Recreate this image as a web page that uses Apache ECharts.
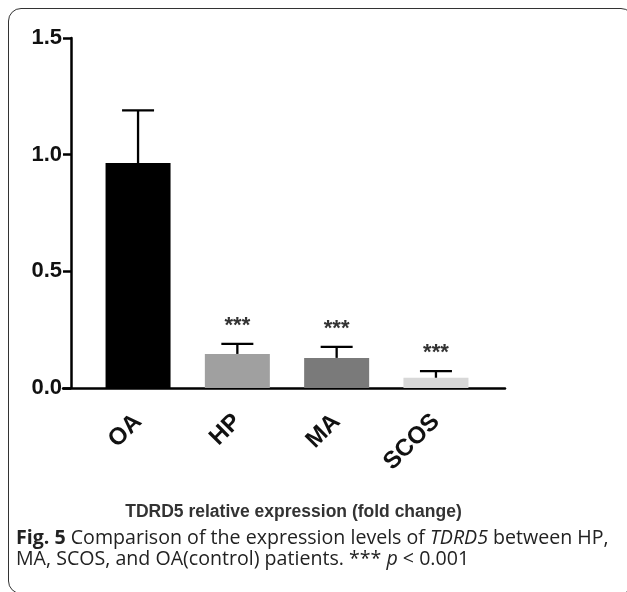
<!DOCTYPE html>
<html>

<head>
    <meta charset="utf-8">
    <script src="https://cdn.jsdelivr.net/npm/echarts@6/dist/echarts.min.js"></script>
    <style>
        body { margin: 0; background: #fff; }
        #frame {
            position: absolute; left: 8px; top: 8px; width: 626px; height: 586px;
            border: 1.5px solid #333; border-radius: 13px; box-sizing: border-box;
        }
        #chart { position: absolute; left: 0; top: 0; width: 627px; height: 592px; }
        #caption {
            position: absolute; left: 16px; top: 526px; white-space: nowrap;
            font-family: "Open Sans", sans-serif; font-size: 19.6px; line-height: 21px; color: #222;
        }
    </style>
</head>

<body>
    <div id="frame"></div>
    <div id="chart"></div>
    <div id="caption"><b>Fig. 5</b> Comparison of the expression levels of <i>TDRD5</i> between HP,<br>MA, SCOS, and OA(control) patients. *** <i>p</i> &lt; 0.001</div>
</body>

<script type="text/javascript">
    var groups = ['OA', 'HP', 'MA', 'SCOS'];
    var means = [0.964, 0.146, 0.129, 0.044];
    var upper = [1.19, 0.189, 0.176, 0.072];
    var sig = ['', '***', '***', '***'];
    var colors = ['#000000', '#a0a0a0', '#7a7a7a', '#d8d8d8'];
    var yTicks = [0, 0.5, 1.0, 1.5];

    var errData = groups.map(function (g, i) { return [i, means[i], upper[i]]; });

    var option = {
        animation: false,
        grid: [
            { left: 88.4, right: 141.4, top: 38, height: 350 },
            { left: 63, right: 122, top: 38, height: 350 }
        ],
        xAxis: [
            {
                type: 'category',
                gridIndex: 0,
                data: groups,
                axisLine: { show: false },
                axisTick: { alignWithLabel: true, length: 9, lineStyle: { color: '#000', width: 2.5 } },
                axisLabel: {
                    rotate: 45, margin: 30, color: '#111',
                    fontFamily: 'Liberation Sans', fontWeight: 'bold', fontSize: 24
                },
                name: 'TDRD5 relative expression (fold change)',
                nameLocation: 'middle',
                nameGap: 115,
                nameTextStyle: {
                    fontFamily: 'Liberation Sans', fontWeight: 'bold', fontSize: 17.5, color: '#333',
                    padding: [0, 0, 0, 13]
                }
            },
            {
                type: 'value',
                gridIndex: 1,
                min: 0, max: 1,
                axisLine: { show: true, lineStyle: { color: '#000', width: 2.5 } },
                axisTick: { show: false },
                axisLabel: { show: false },
                splitLine: { show: false }
            }
        ],
        yAxis: [
            {
                type: 'value',
                gridIndex: 0,
                min: yTicks[0], max: yTicks[yTicks.length - 1], interval: 0.5,
                offset: 17.4,
                axisLine: { show: true, lineStyle: { color: '#000', width: 2.5 } },
                axisTick: { show: true, length: 8, lineStyle: { color: '#000', width: 2.5 } },
                axisLabel: {
                    margin: 9, color: '#111',
                    fontFamily: 'Liberation Sans', fontWeight: 'bold', fontSize: 22,
                    formatter: function (v) { return v.toFixed(1); }
                },
                splitLine: { show: false }
            },
            { type: 'value', gridIndex: 1, show: false }
        ],
        series: [
            {
                type: 'bar',
                xAxisIndex: 0, yAxisIndex: 0,
                barWidth: 65,
                data: means.map(function (v, i) { return { value: v, itemStyle: { color: colors[i] } }; })
            },
            {
                type: 'custom',
                xAxisIndex: 0, yAxisIndex: 0,
                z: 5,
                encode: { x: 0, y: [1, 2] },
                data: errData,
                renderItem: function (params, api) {
                    var base = api.coord([api.value(0), api.value(1)]);
                    var top = api.coord([api.value(0), api.value(2)]);
                    var half = 16;
                    var ls = { stroke: '#000', lineWidth: 2.3 };
                    return {
                        type: 'group',
                        children: [
                            { type: 'line', shape: { x1: base[0], y1: base[1], x2: top[0], y2: top[1] }, style: ls },
                            { type: 'line', shape: { x1: top[0] - half, y1: top[1], x2: top[0] + half, y2: top[1] }, style: ls },
                            {
                                type: 'text', x: top[0], y: top[1] - 18,
                                style: {
                                    text: sig[params.dataIndex], align: 'center', verticalAlign: 'middle',
                                    fontFamily: 'Liberation Sans', fontWeight: 'bold', fontSize: 22, fill: '#333'
                                }
                            }
                        ]
                    };
                }
            }
        ]
    };

    var chart = echarts.init(document.getElementById('chart'));
    chart.setOption(option);
</script>

</html>
